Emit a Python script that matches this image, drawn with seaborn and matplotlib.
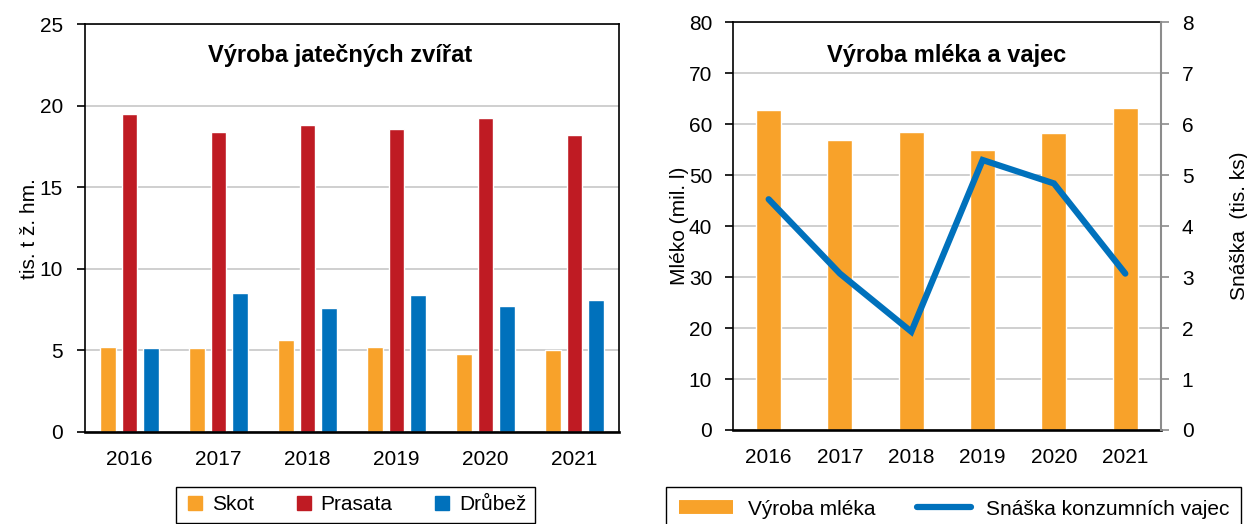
import numpy as np
import pandas as pd
import seaborn as sns
import matplotlib.pyplot as plt
from matplotlib.lines import Line2D

# data
roky = ['2016', '2017', '2018', '2019', '2020', '2021']
skot = [5.23, 5.13, 5.64, 5.19, 4.80, 5.01]
prasata = [19.51, 18.42, 18.83, 18.59, 19.28, 18.20]
drubez = [5.15, 8.50, 7.63, 8.42, 7.71, 8.10]
mleko = [62.8, 57.0, 58.5, 54.9, 58.3, 63.3]
vejce = [4.53, 3.07, 1.93, 5.30, 4.84, 3.07]

druhy = ['Skot', 'Prasata', 'Drůbež']
barvy = ['#F8A22A', '#BF1B23', '#0071BC']
oranzova = '#F8A22A'
modra = '#0071BC'
mrizka = '#CBCBCB'
seda = '#8C8C8C'

df = pd.DataFrame({'rok': roky * 3,
                   'druh': [d for d in druhy for _ in roky],
                   'hodnota': skot + prasata + drubez})

sns.set_style('white')
plt.rcParams['font.family'] = ['Liberation Sans', 'DejaVu Sans']
plt.rcParams['font.size'] = 15
for k in ('text.color', 'axes.labelcolor', 'xtick.color', 'ytick.color'):
    plt.rcParams[k] = 'black'

fs = 15

fig = plt.figure(figsize=(12.47, 5.24), dpi=100)
ax1 = fig.add_axes([0.0682, 0.1756, 0.4282, 0.7777])
ax2 = fig.add_axes([0.5878, 0.1794, 0.3432, 0.7777])

# --- left chart: slaughter production
sns.barplot(data=df, x='rok', y='hodnota', hue='druh', hue_order=druhy,
            palette=barvy, width=0.72, gap=0.26, saturation=1,
            legend=False, ax=ax1)
ax1.set_ylim(0, 25)
ax1.set_yticks(range(0, 26, 5))
ax1.set_xlim(-0.5, 5.5)
ax1.set_xlabel('')
ax1.set_ylabel('tis. t ž. hm.', fontsize=fs, labelpad=0)
ax1.text(0.477, 0.925, 'Výroba jatečných zvířat', transform=ax1.transAxes,
         ha='center', va='center', fontsize=17, fontweight='bold')

# --- right chart: milk and eggs
sns.barplot(x=roky, y=mleko, color=oranzova, width=0.35, saturation=1, ax=ax2)
ax2.set_ylim(0, 80)
ax2.set_yticks(range(0, 81, 10))
ax2.set_xlim(-0.5, 5.5)
ax2.set_ylabel('Mléko (mil. l)', fontsize=fs, labelpad=0)
ax2.text(0.5, 0.92, 'Výroba mléka a vajec', transform=ax2.transAxes,
         ha='center', va='center', fontsize=17, fontweight='bold')

ax3 = ax2.twinx()
sns.pointplot(x=roky, y=vejce, color=modra, markers='', errorbar=None,
              lw=4.5, solid_joinstyle='miter', ax=ax3)
ax3.set_ylim(0, 8)
ax3.set_yticks(range(0, 9))
ax3.set_xlim(-0.5, 5.5)
ax3.set_ylabel('Snáška  (tis. ks)', fontsize=fs, labelpad=26)

for ax in (ax1, ax2):
    ax.set_axisbelow(True)
    ax.yaxis.grid(True, color=mrizka, lw=1.3)
    ax.xaxis.grid(False)
    ax.set_xticks(np.arange(-0.5, 6, 1), minor=True)
    ax.tick_params(axis='x', which='major', length=0, pad=13, labelsize=fs)
    ax.tick_params(axis='x', which='minor', length=6, width=1.2,
                   direction='out', color='black')
    ax.tick_params(axis='y', length=6, width=1.2, direction='out',
                   color='black', labelsize=fs, left=True)
    for s in ax.spines.values():
        s.set_visible(True)
        s.set_color('black')
        s.set_linewidth(1.2)
    ax.spines['bottom'].set_linewidth(1.9)

ax1.tick_params(axis='y', pad=10)
ax2.tick_params(axis='y', pad=9)
ax2.spines['right'].set_visible(False)
for k in ('left', 'top', 'bottom'):
    ax3.spines[k].set_visible(False)
ax3.spines['right'].set_color(seda)
ax3.spines['right'].set_linewidth(1.5)
ax3.tick_params(axis='y', length=6, width=1.2, direction='out', color=seda,
                labelsize=fs, pad=9, right=True)
ax3.tick_params(axis='x', length=0)
ax3.grid(False)

# --- legends under the charts
h1 = [Line2D([], [], ls='none', marker='s', markersize=10, color=c) for c in barvy]
fig.legend(h1, druhy, loc='upper center', bbox_to_anchor=(0.285, 0.0706),
           ncol=3, frameon=True, fancybox=False, edgecolor='black',
           fontsize=fs, handlelength=1.0, handletextpad=0.3,
           columnspacing=1.9, borderpad=0.4, borderaxespad=0, framealpha=1)
h2 = [Line2D([], [], color=oranzova, lw=10, solid_capstyle='butt'),
      Line2D([], [], color=modra, lw=4.5, solid_capstyle='round')]
fig.legend(h2, ['Výroba mléka', 'Snáška konzumních vajec'],
           loc='upper center', bbox_to_anchor=(0.765, 0.0706),
           ncol=2, frameon=True, fancybox=False, edgecolor='black',
           fontsize=fs, handlelength=2.6, handletextpad=0.7,
           columnspacing=2.0, borderpad=0.6, borderaxespad=0, framealpha=1)

fig.savefig('out.png', dpi=100)
